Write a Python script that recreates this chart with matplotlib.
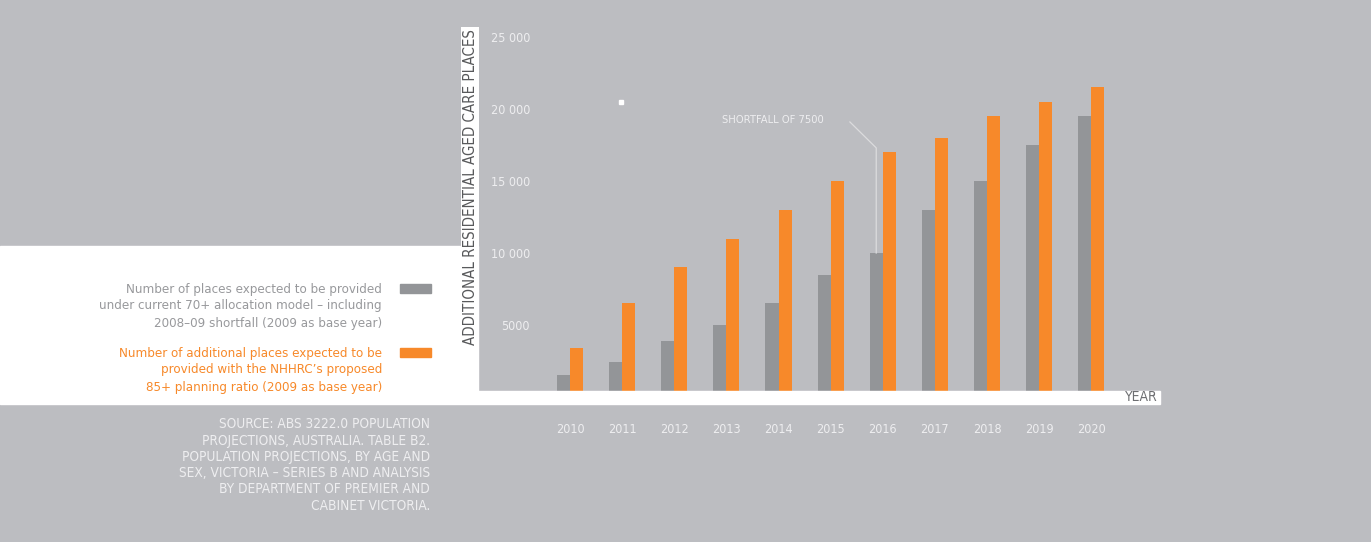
import matplotlib
matplotlib.use("Agg")
from matplotlib import pyplot as plt
from matplotlib.patches import Rectangle

years = ["2010", "2011", "2012", "2013", "2014", "2015", "2016", "2017", "2018", "2019", "2020"]
current_places = [1500, 2400, 3900, 5000, 6500, 8500, 10000, 13000, 15000, 17500, 19500]
proposed_places = [3400, 6500, 9000, 11000, 13000, 15000, 17000, 18000, 19500, 20500, 21500]
y_ticks = [5000, 10000, 15000, 20000, 25000]
y_tick_labels = ["5000", "10 000", "15 000", "20 000", "25 000"]

legend_current = "Number of places expected to be provided\nunder current 70+ allocation model \u2013 including\n2008\u201309 shortfall (2009 as base year)"
legend_proposed = "Number of additional places expected to be\nprovided with the NHHRC\u2019s proposed\n85+ planning ratio (2009 as base year)"
source = ("SOURCE: ABS 3222.0 POPULATION\nPROJECTIONS, AUSTRALIA. TABLE B2.\n"
          "POPULATION PROJECTIONS, BY AGE AND\nSEX, VICTORIA \u2013 SERIES B AND ANALYSIS\n"
          "BY DEPARTMENT OF PREMIER AND\nCABINET VICTORIA.")

BG = "#bcbdc1"
GREY = "#939598"
ORANGE = "#f7892a"
LIGHT = "#eeeef0"

plt.rcParams["font.family"] = ["DejaVu Sans"]
plt.rcParams["font.stretch"] = "condensed"

W, H = 1371, 542
fig = plt.figure(figsize=(W / 100, H / 100), dpi=100, facecolor=BG)


def px(x0, y0, w, h):
    # pixel box (top-left origin) -> figure fraction rect
    return (x0 / W, 1 - (y0 + h) / H, w / W, h / H)


# plot area: left edge 478px, zero line at 397px
ax = fig.add_axes(px(478, 0, 1160 - 478, 397))
ax.set_facecolor("none")
for s in ax.spines.values():
    s.set_visible(False)

idx = list(range(len(years)))
w = 0.25
ax.bar([i - w / 2 for i in idx], current_places, width=w, color=GREY, zorder=2)
ax.bar([i + w / 2 for i in idx], proposed_places, width=w, color=ORANGE, zorder=2)

ax.set_xlim(-1.766, 11.32)
ax.set_ylim(0, 397 / 14.4 * 1000)

ax.set_yticks(y_ticks)
ax.set_yticklabels(y_tick_labels)
ax.tick_params(axis="y", length=0, pad=-37.5, labelsize=9, labelcolor=LIGHT)
for lab in ax.get_yticklabels():
    lab.set_horizontalalignment("right")

ax.set_xticks(idx)
ax.set_xticklabels(years)
ax.tick_params(axis="x", length=0, pad=19, labelsize=9, labelcolor=LIGHT)

# shortfall annotation
k = years.index("2016")
ax.text(4.87, 19240, "SHORTFALL OF 7500", ha="right", va="center",
        color=LIGHT, fontsize=8)
ax.plot([5.37, k - w / 2, k - w / 2], [19100, proposed_places[k] + 300, current_places[k]],
        color="#dcdcde", lw=0.9, zorder=3)

# white bands
fig.patches.append(Rectangle((0, 1 - 403 / H), 478 / W, (403 - 246) / H,
                             transform=fig.transFigure, color="white", zorder=1))
fig.patches.append(Rectangle((0, 1 - 404 / H), 1160 / W, 13 / H,
                             transform=fig.transFigure, color="white", zorder=5))
fig.patches.append(Rectangle((619 / W, 1 - 104 / H), 4 / W, 4 / H,
                             transform=fig.transFigure, color="white", zorder=5))

fig.text(1158 / W, 1 - 397 / H, "YEAR", ha="right", va="center",
         color="#6d6e71", fontsize=10, zorder=6)

fig.text(470 / W, 1 - 187 / H, "ADDITIONAL RESIDENTIAL AGED CARE PLACES", rotation=90,
         ha="center", va="center", color="#58595b", fontsize=10.8, zorder=6,
         bbox=dict(facecolor="white", edgecolor="none", pad=1.2))

# legend
fig.text(382 / W, 1 - 306 / H, legend_current, ha="right", va="center", color="#98999c",
         fontsize=9.5, linespacing=1.4, zorder=6)
fig.text(382 / W, 1 - 370 / H, legend_proposed, ha="right", va="center", color=ORANGE,
         fontsize=9.5, linespacing=1.4, zorder=6)
fig.patches.append(Rectangle(px(400, 284, 31, 9)[:2], 31 / W, 9 / H,
                             transform=fig.transFigure, color=GREY, zorder=6))
fig.patches.append(Rectangle(px(400, 348, 31, 9)[:2], 31 / W, 9 / H,
                             transform=fig.transFigure, color=ORANGE, zorder=6))

fig.text(430 / W, 1 - 465 / H, source, ha="right", va="center", color=LIGHT,
         fontsize=9.8, linespacing=1.2, zorder=6)

fig.savefig("out.png", dpi=100, facecolor=BG)
